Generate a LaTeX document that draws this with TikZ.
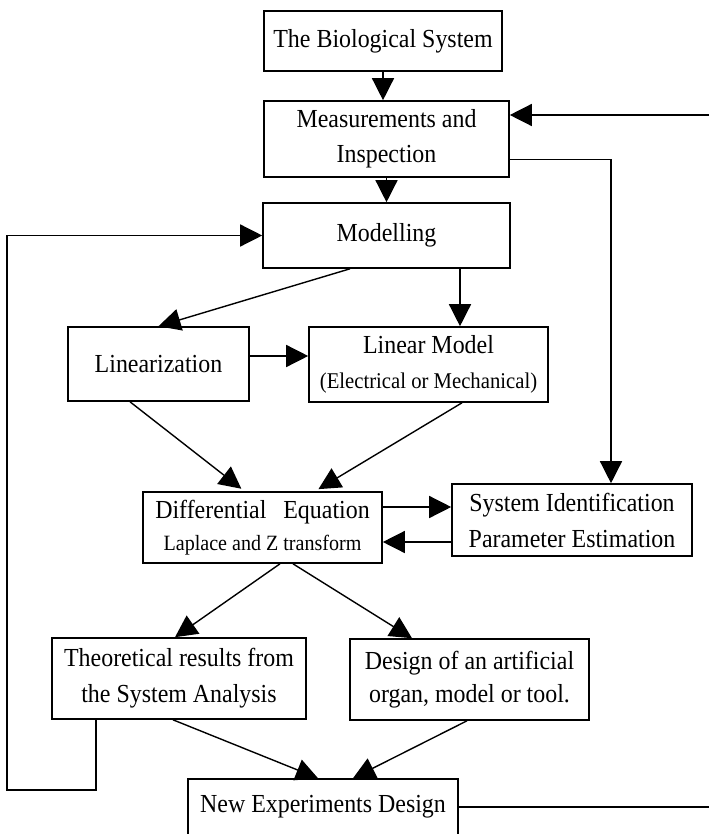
\documentclass[tikz,border=0pt]{standalone}
\usepackage{fontspec}
\setmainfont[FakeStretch=0.92]{Liberation Serif}
\usetikzlibrary{arrows.meta}
\begin{document}
\begin{tikzpicture}[x=1pt,y=-1pt,
  box/.style={draw, line width=1.6pt, inner sep=0pt, align=center, font=\fontsize{26}{35}\selectfont},
  arr/.style={line width=1.4pt, -{Triangle[length=22pt,width=22pt]}},
  con/.style={line width=1.4pt}]
\useasboundingbox (0,0) rectangle (709,834);
\fill[white] (0,0) rectangle (709,834);

\node[box, minimum width=238pt, minimum height=60pt] (bio) at (383,41) {The Biological System};
\node[box, minimum width=245pt, minimum height=76pt] (meas) at (386.5,139) {Measurements and\\Inspection};
\node[box, minimum width=247pt, minimum height=65pt] (model) at (386.5,235.5) {Modelling};
\node[box, minimum width=181pt, minimum height=74pt] (lin) at (158.5,364) {Linearization};
\node[box, minimum width=239pt, minimum height=75pt] (lm) at (428.5,364.5) {Linear Model\\{\fontsize{22.5}{22.5}\selectfont (Electrical or Mechanical)}};
\node[box, minimum width=239pt, minimum height=71pt, font=\fontsize{26}{32}\selectfont] (de) at (262.5,527.5) {Differential\hspace{0.65em}Equation\\{\fontsize{21.8}{21.8}\selectfont Laplace and Z transform}};
\node[box, minimum width=240pt, minimum height=72pt, font=\fontsize{26}{36}\selectfont] (sid) at (572,520) {System Identification\\Parameter Estimation};
\node[box, minimum width=254pt, minimum height=81pt, font=\fontsize{26}{36}\selectfont] (theo) at (179,678.5) {Theoretical results from\\the System Analysis};
\node[box, minimum width=239pt, minimum height=81pt, font=\fontsize{26}{33}\selectfont] (des) at (469.5,679.5) {Design of an artificial\\organ, model or tool.};
\node[box, minimum width=270pt, minimum height=56pt] (nexp) at (323,807) {New Experiments Design};

\coordinate (rin) at (709,115);
\coordinate (rout) at (709,807);

% vertical main chain
\draw[arr] (bio.south) -- (bio.south |- meas.north);
\draw[arr] (meas.south) -- (meas.south |- model.north);
% measurement to system identification
\draw[arr] ([yshift=18pt]meas.south east) -| ([xshift=39pt]sid.north);
% right feedback stubs
\draw[arr] (rin) -- (rin -| meas.east);
\draw[con] (nexp.east) -- (rout);
% modelling branches
\draw[arr] ([xshift=-36.5pt]model.south) -- (lin.north);
\draw[arr] ([xshift=73.5pt]model.south) -- ([xshift=73.5pt]model.south |- lm.north);
\draw[arr] ([yshift=8pt]lin.east) -- ([yshift=8pt]lin.east -| lm.west);
% to differential equation
\draw[arr, shorten >=4pt] ([xshift=-28.5pt]lin.south) -- ([xshift=-18pt]de.north);
\draw[arr, shorten >=4pt] ([xshift=33.5pt]lm.south) -- ([xshift=52.5pt]de.north);
% de <-> sid
\draw[arr] ([yshift=20.5pt]de.east) -- ([yshift=20.5pt]de.east -| sid.west);
\draw[arr] ([yshift=-22pt]sid.west) -- ([yshift=-22pt]sid.west -| de.east);
% de to outputs
\draw[arr] ([xshift=17.5pt]de.south) -- ([xshift=-4pt]theo.north);
\draw[arr] ([xshift=30.5pt]de.south) -- ([xshift=-57.5pt]des.north);
% outputs to new experiments
\draw[arr] ([xshift=-6pt]theo.south) -- ([xshift=-5pt]nexp.north);
\draw[arr] ([xshift=-2.5pt]des.south) -- ([xshift=30pt]nexp.north);
% left feedback loop
\draw[arr] ([xshift=-83pt]theo.south) -- ++(0,70) -- ++(-89,0) |- (model.west);
\end{tikzpicture}
\end{document}
